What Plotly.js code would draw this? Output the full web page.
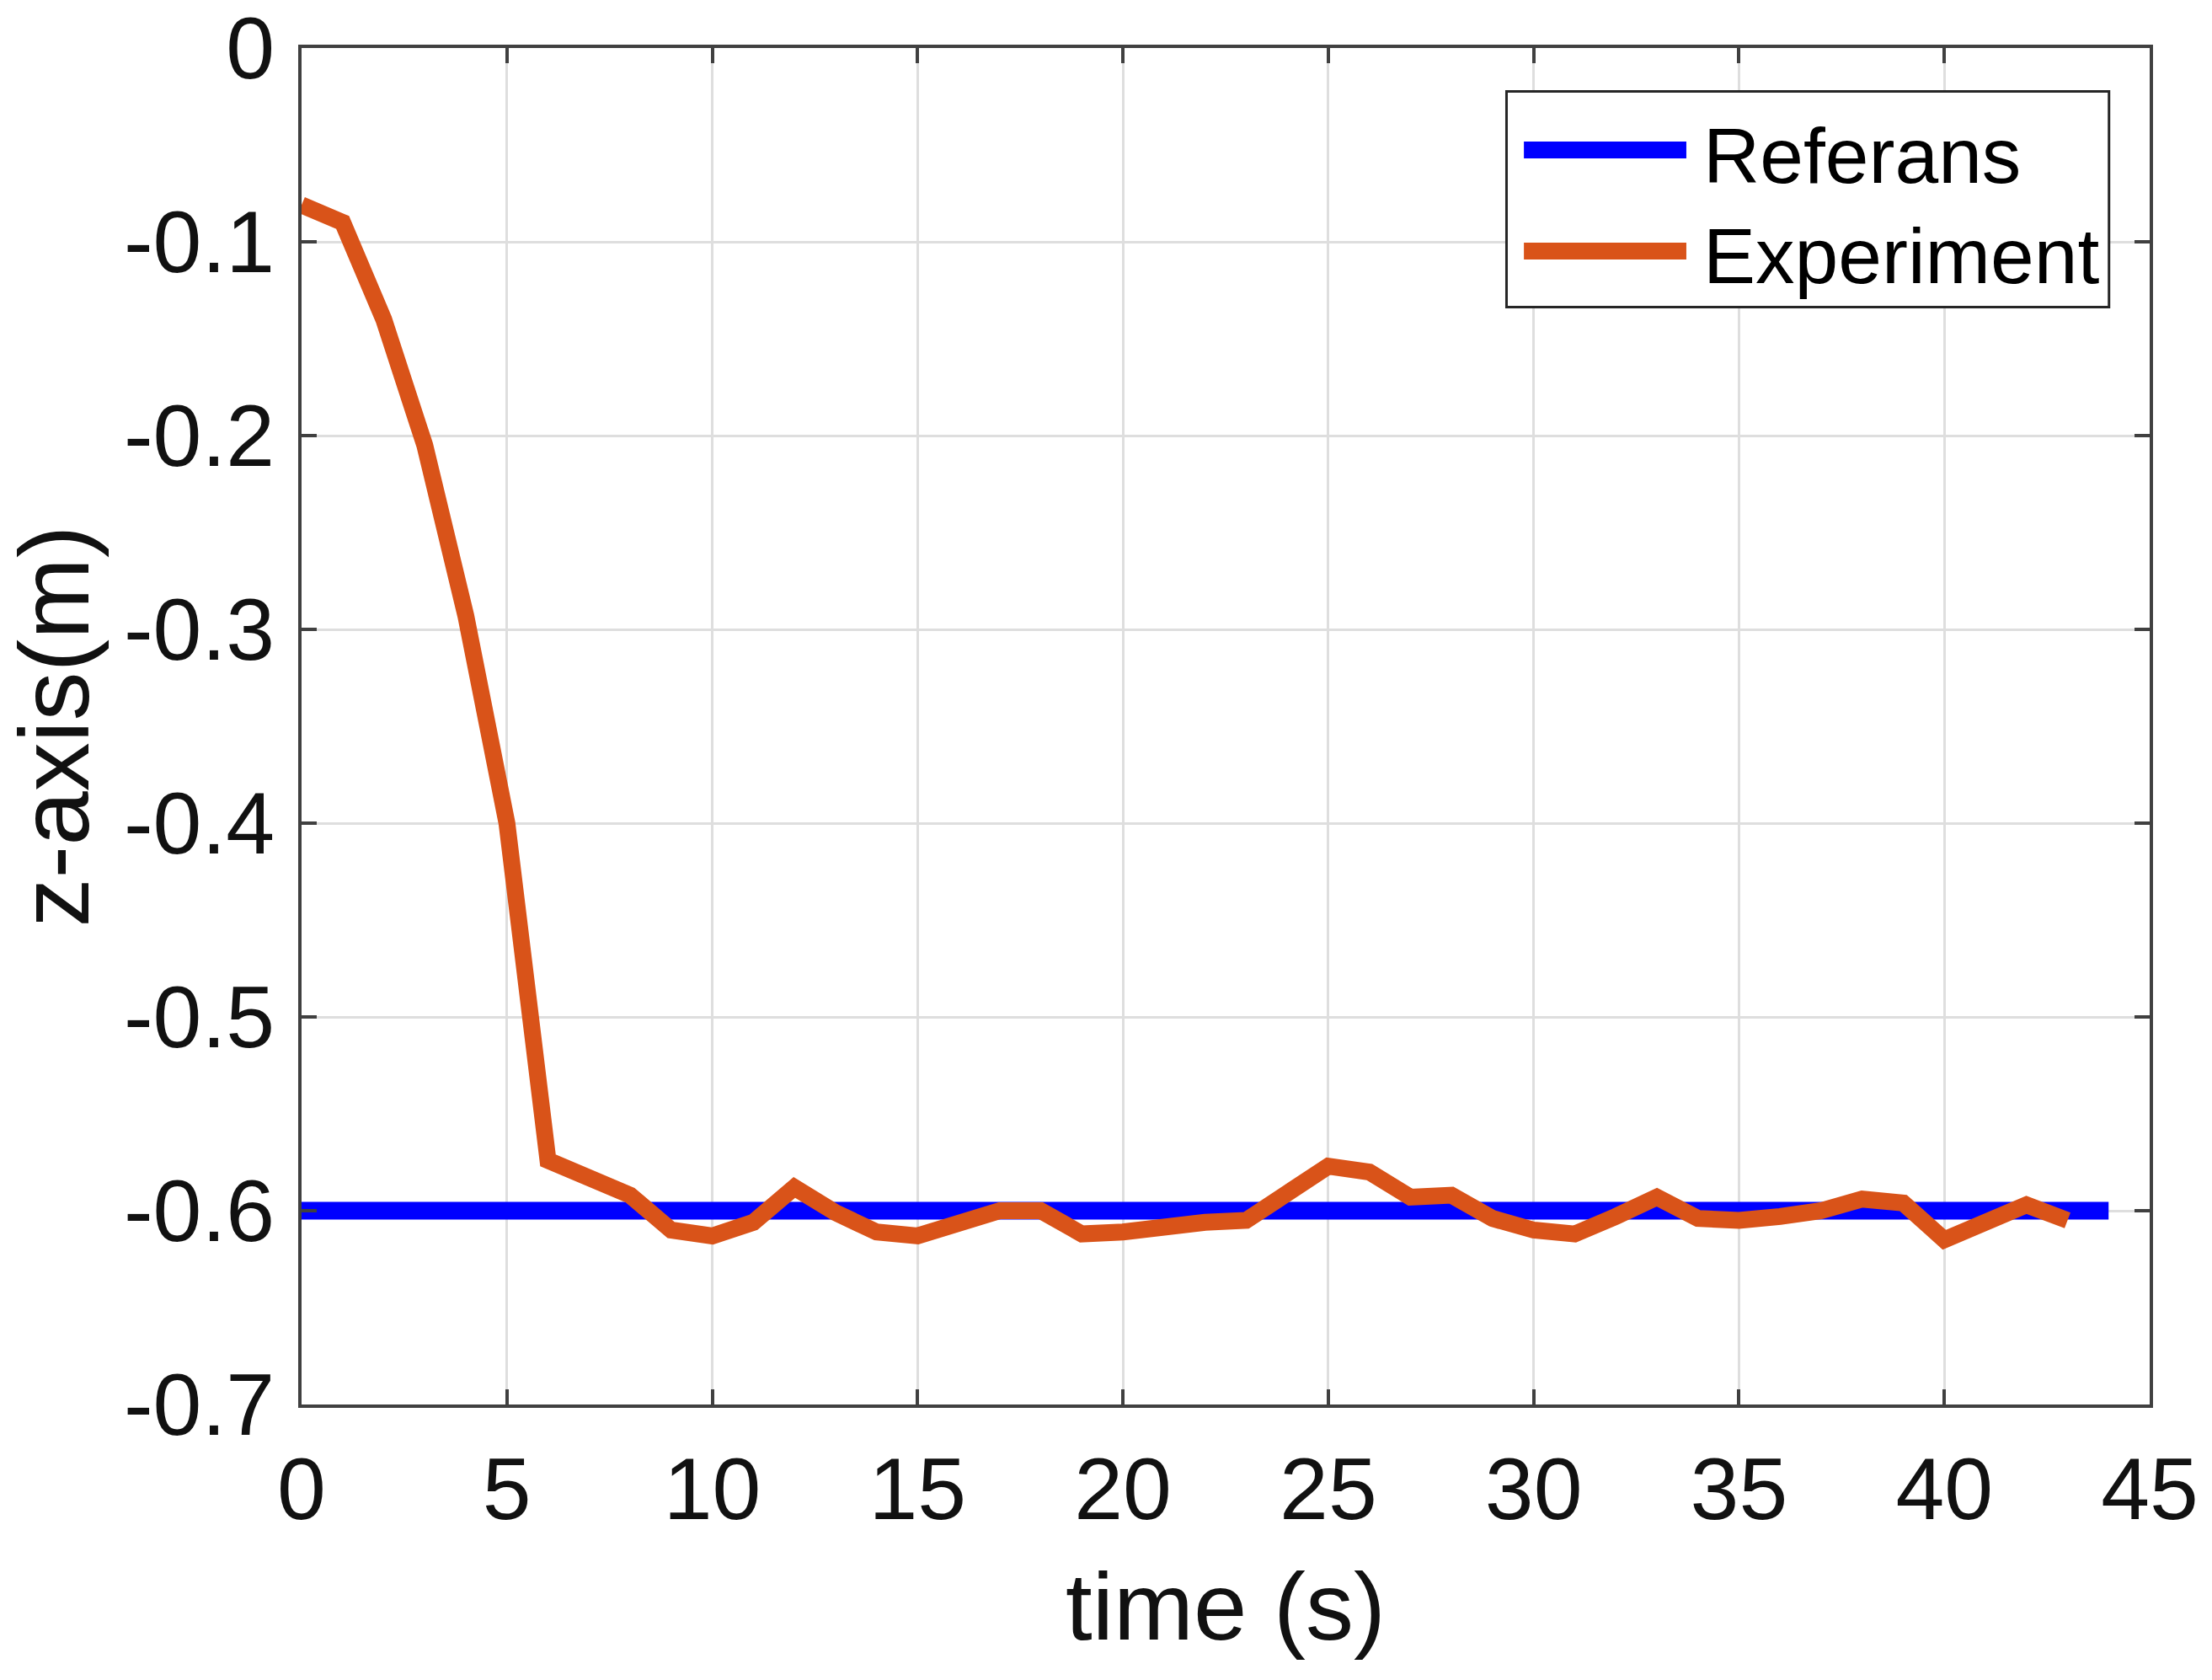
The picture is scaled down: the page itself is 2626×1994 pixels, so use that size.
<!DOCTYPE html>
<html>
<head>
<meta charset="utf-8">
<script src="https://cdn.plot.ly/plotly-3.0.1.min.js"></script>
<style>
html,body{margin:0;padding:0;background:#fff;}
#chart{width:2626px;height:1994px;}
</style>
</head>
<body>
<div id="chart"></div>
<script>
// ---- data ----
const timeS = [0,1,2,3,4,5,6,7,8,9,10,11,12,13,14,15,16,17,18,19,20,21,22,23,24,25,26,27,28,29,30,31,32,33,34,35,36,37,38,39,40,41,42,43];
const experimentZ = [-0.081,-0.090,-0.140,-0.205,-0.293,-0.400,-0.574,-0.582,-0.592,-0.610,-0.613,-0.606,-0.588,-0.601,-0.611,-0.613,-0.607,-0.600,-0.600,-0.612,-0.611,-0.608,-0.606,-0.605,-0.592,-0.577,-0.580,-0.593,-0.592,-0.604,-0.610,-0.612,-0.603,-0.593,-0.604,-0.605,-0.603,-0.600,-0.594,-0.596,-0.615,-0.606,-0.597,-0.605];
const referenceT = [0, 44];
const referenceZ = [-0.6, -0.6];
const xTickVals = [0,5,10,15,20,25,30,35,40,45];
const xTickText = ["0","5","10","15","20","25","30","35","40","45"];
const yTickVals = [0,-0.1,-0.2,-0.3,-0.4,-0.5,-0.6,-0.7];
const yTickText = ["0","-0.1","-0.2","-0.3","-0.4","-0.5","-0.6","-0.7"];
const seriesNames = ["Referans", "Experiment"];
const seriesColors = ["#0000FF", "#D95319"];

// ---- styling ----
const FONT = "Liberation Sans, Arial, Helvetica, sans-serif";
const axisColor = "#404040";
const gridColor = "#dedede";
const textColor = "#111111";

const traces = [
  {x: referenceT, y: referenceZ, mode: "lines", name: seriesNames[0],
   line: {color: seriesColors[0], width: 21}, showlegend: false},
  {x: timeS, y: experimentZ, mode: "lines", name: seriesNames[1],
   line: {color: seriesColors[1], width: 20, shape: "linear"}, showlegend: false}
];

// custom MATLAB-style legend (paper coordinates)
const legX0 = 0.652, legX1 = 0.978, legY0 = 0.809, legY1 = 0.968;
const rowY = [0.9248, 0.8503];
const lineX0 = 0.6614, lineX1 = 0.7493, textX = 0.7575;
const shapes = [
  {type: "rect", xref: "paper", yref: "paper", x0: legX0, x1: legX1, y0: legY0, y1: legY1,
   line: {color: "#262626", width: 3}, fillcolor: "#ffffff", layer: "above"}
];
const annotations = [];
for (let i = 0; i < seriesNames.length; i++) {
  shapes.push({type: "line", xref: "paper", yref: "paper", x0: lineX0, x1: lineX1, y0: rowY[i], y1: rowY[i],
    line: {color: seriesColors[i], width: 20}, layer: "above"});
  annotations.push({xref: "paper", yref: "paper", x: textX, y: rowY[i] - 0.004, xanchor: "left", yanchor: "middle",
    text: seriesNames[i], showarrow: false, font: {family: FONT, size: 93, color: "#000000"}});
}

const layout = {
  width: 2626, height: 1994,
  paper_bgcolor: "#ffffff", plot_bgcolor: "#ffffff",
  margin: {l: 358, r: 74, t: 57, b: 327, pad: 0},
  showlegend: false,
  font: {family: FONT, size: 104, color: textColor},
  xaxis: {
    range: [0, 45], tickmode: "array", tickvals: xTickVals, ticktext: xTickText,
    showgrid: true, gridcolor: gridColor, gridwidth: 3, zeroline: false,
    showline: true, linecolor: axisColor, linewidth: 4, mirror: "ticks",
    ticks: "inside", ticklen: 18, tickwidth: 4, tickcolor: axisColor,
    tickfont: {family: FONT, size: 104, color: textColor},
    ticklabelstandoff: 7, ticklabeloverflow: "allow",
    automargin: false,
    title: {text: "time (s)", font: {family: FONT, size: 114, color: textColor}, standoff: 43}
  },
  yaxis: {
    range: [-0.7, 0], tickmode: "array", tickvals: yTickVals, ticktext: yTickText,
    showgrid: true, gridcolor: gridColor, gridwidth: 3, zeroline: false,
    showline: true, linecolor: axisColor, linewidth: 4, mirror: "ticks",
    ticks: "inside", ticklen: 18, tickwidth: 4, tickcolor: axisColor,
    tickfont: {family: FONT, size: 104, color: textColor},
    ticklabelstandoff: 7, ticklabeloverflow: "allow",
    automargin: false,
    title: {text: "z-axis(m)", font: {family: FONT, size: 116, color: textColor}, standoff: 26}
  },
  shapes: shapes,
  annotations: annotations
};

Plotly.newPlot("chart", traces, layout, {staticPlot: true, displayModeBar: false});
</script>
</body>
</html>
